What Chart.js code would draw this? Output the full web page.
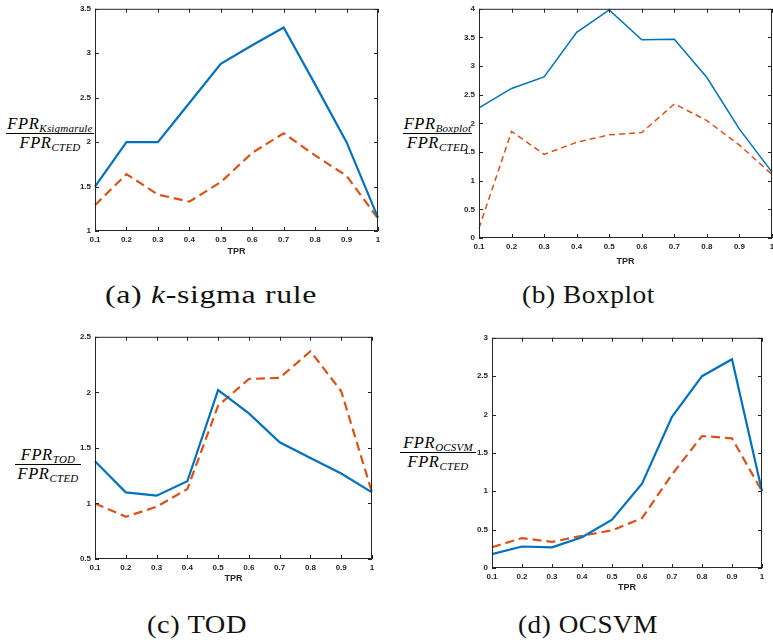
<!DOCTYPE html>
<html><head><meta charset="utf-8">
<script src="https://cdn.jsdelivr.net/npm/chart.js@4.4.0/dist/chart.umd.min.js"></script>
<style>
html,body{margin:0;padding:0;background:#fff;width:773px;height:643px;overflow:hidden;position:relative}
canvas{position:absolute}
.frac{position:absolute;text-align:center;font-family:"Liberation Serif",serif;color:#000}
.frac .num,.frac .den{height:18px;line-height:18px;white-space:nowrap}
.frac i{font-size:16.5px;letter-spacing:0.6px}
.frac sub{font-size:11px;font-style:italic;vertical-align:-3px;line-height:0;letter-spacing:0.2px}
.frac .bar{height:1px;background:#000}
.cap{position:absolute;font-family:"Liberation Serif",serif;font-size:25px;white-space:nowrap;color:#111;line-height:30px;transform-origin:0 50%;letter-spacing:0.5px}
</style></head><body>
<div class="frac" style="left:6px;width:88px;top:115px"><div class="num"><i>FPR</i><sub>Ksigmarule</sub></div><div class="bar"></div><div class="den"><i>FPR</i><sub>CTED</sub></div></div>
<div class="frac" style="left:403px;width:69px;top:115px"><div class="num"><i>FPR</i><sub>Boxplot</sub></div><div class="bar"></div><div class="den"><i>FPR</i><sub>CTED</sub></div></div>
<div class="frac" style="left:15px;width:66px;top:446px"><div class="num"><i>FPR</i><sub>TOD</sub></div><div class="bar"></div><div class="den"><i>FPR</i><sub>CTED</sub></div></div>
<div class="frac" style="left:400px;width:76px;top:434px"><div class="num"><i>FPR</i><sub>OCSVM</sub></div><div class="bar"></div><div class="den"><i>FPR</i><sub>CTED</sub></div></div>
<div class="cap" data-l="105" data-w="212" data-y="295">(a) <i>k</i>-sigma rule</div>
<div class="cap" data-l="522" data-w="133" data-y="295">(b) Boxplot</div>
<div class="cap" data-l="147" data-w="100" data-y="625">(c) TOD</div>
<div class="cap" data-l="518" data-w="140" data-y="625">(d) OCSVM</div>
<script>
// ---- data ----
const tprLabels = ['0.1','0.2','0.3','0.4','0.5','0.6','0.7','0.8','0.9','1'];

const ksigmaSolid  = [1.50, 2.00, 2.00, 2.44, 2.88, 3.09, 3.29, 2.65, 2.00, 1.15];
const ksigmaDashed = [1.29, 1.64, 1.41, 1.33, 1.55, 1.88, 2.10, 1.85, 1.62, 1.14];
const ksigmaYTicks = [1, 1.5, 2, 2.5, 3, 3.5];

const boxplotSolid  = [2.27, 2.61, 2.81, 3.59, 3.98, 3.46, 3.47, 2.80, 1.90, 1.15];
const boxplotDashed = [0.17, 1.86, 1.46, 1.67, 1.80, 1.84, 2.34, 2.05, 1.62, 1.11];
const boxplotYTicks = [0, 0.5, 1, 1.5, 2, 2.5, 3, 3.5, 4];

const todSolid  = [1.38, 1.10, 1.07, 1.20, 2.02, 1.81, 1.55, 1.41, 1.27, 1.10];
const todDashed = [1.00, 0.88, 0.97, 1.13, 1.88, 2.12, 2.13, 2.37, 2.01, 1.10];
const todYTicks = [0.5, 1, 1.5, 2, 2.5];

const ocsvmSolid  = [0.18, 0.28, 0.27, 0.40, 0.63, 1.10, 1.97, 2.50, 2.72, 1.00];
const ocsvmDashed = [0.27, 0.39, 0.34, 0.42, 0.49, 0.65, 1.22, 1.72, 1.69, 1.00];
const ocsvmYTicks = [0, 0.5, 1, 1.5, 2, 2.5, 3];

const xTitle = 'TPR';

// ---- captions: fit to measured extents ----
document.querySelectorAll('.cap').forEach(el => {
  const w = el.getBoundingClientRect().width;
  const target = +el.dataset.w;
  el.style.left = el.dataset.l + 'px';
  el.style.top = (+el.dataset.y - 15) + 'px';
  el.style.transform = 'scaleX(' + (target / w) + ')';
});

// ---- layout / style ----
const BLUE = '#0072BD', ORANGE = '#D95319', AXIS = '#262626';
const panels = [
  {plot:{l:95,  t:7,   r:378, b:231}, solid:ksigmaSolid,  dashed:ksigmaDashed,  yTicks:ksigmaYTicks,  lw:2.2, dash:[9,5], titleOff:21},
  {plot:{l:479, t:7,   r:772, b:238}, solid:boxplotSolid, dashed:boxplotDashed, yTicks:boxplotYTicks, lw:1.5, dash:[6,4], titleOff:24},
  {plot:{l:95,  t:335, r:372, b:559}, solid:todSolid,     dashed:todDashed,     yTicks:todYTicks,     lw:2.2, dash:[9,5], titleOff:20},
  {plot:{l:492, t:336, r:762, b:568}, solid:ocsvmSolid,   dashed:ocsvmDashed,   yTicks:ocsvmYTicks,   lw:2.2, dash:[9,5], titleOff:20}
];

const boxTicks = {
  id: 'boxTicks',
  afterDatasetsDraw(chart) {
    const {ctx, chartArea: a, scales} = chart;
    ctx.save();
    ctx.strokeStyle = AXIS;
    ctx.lineWidth = 1;
    ctx.strokeRect(a.left + 0.5, a.top + 0.5, a.right - a.left - 1, a.bottom - a.top - 1);
    const L = 4;
    ctx.beginPath();
    scales.x.ticks.forEach((t, i) => {
      const px = Math.round(scales.x.getPixelForTick(i)) + 0.5;
      ctx.moveTo(px, a.bottom); ctx.lineTo(px, a.bottom - L);
      ctx.moveTo(px, a.top); ctx.lineTo(px, a.top + L);
    });
    scales.y.ticks.forEach((t, i) => {
      const py = Math.round(scales.y.getPixelForTick(i)) + 0.5;
      ctx.moveTo(a.left, py); ctx.lineTo(a.left + L, py);
      ctx.moveTo(a.right, py); ctx.lineTo(a.right - L, py);
    });
    ctx.stroke();
    ctx.restore();
  }
};

const YW = 40, XH = 40, PT = 7, PR = 12;
panels.forEach(p => {
  const c = document.createElement('canvas');
  const w = (p.plot.r - p.plot.l) + YW + PR;
  const h = (p.plot.b - p.plot.t) + PT + XH;
  c.width = w; c.height = h;
  c.style.left = (p.plot.l - YW) + 'px';
  c.style.top = (p.plot.t - PT) + 'px';
  c.style.width = w + 'px'; c.style.height = h + 'px';
  document.body.appendChild(c);
  const yMin = p.yTicks[0], yMax = p.yTicks[p.yTicks.length - 1];
  const step = p.yTicks[1] - p.yTicks[0];
  new Chart(c, {
    type: 'line',
    data: {
      labels: tprLabels,
      datasets: [
        {data: p.solid, borderColor: BLUE, borderWidth: p.lw, pointRadius: 0, tension: 0, fill: false},
        {data: p.dashed, borderColor: ORANGE, borderWidth: p.lw, borderDash: p.dash, pointRadius: 0, tension: 0, fill: false}
      ]
    },
    options: {
      responsive: false, animation: false, devicePixelRatio: 1,
      layout: {padding: {top: PT, right: PR, left: 0, bottom: 0}},
      plugins: {legend: {display: false}, tooltip: {enabled: false}},
      scales: {
        x: {
          type: 'category', offset: false,
          grid: {display: false, drawTicks: false}, border: {display: false},
          ticks: {color: AXIS, font: {family: 'Liberation Sans', size: 8, weight: 'bold'}, padding: 4, maxRotation: 0, autoSkip: false},
          title: {display: true, text: xTitle, color: AXIS, font: {family: 'Liberation Sans', size: 9, weight: 'bold'}, padding: {top: 0, bottom: XH - p.titleOff - 5.4}},
          afterFit(s) { s.height = XH; }
        },
        y: {
          min: yMin, max: yMax,
          grid: {display: false, drawTicks: false}, border: {display: false},
          ticks: {stepSize: step, color: AXIS, font: {family: 'Liberation Sans', size: 8, weight: 'bold'}, padding: 4,
                  callback: v => String(Math.round(v * 10) / 10)},
          afterFit(s) { s.width = YW; }
        }
      }
    },
    plugins: [boxTicks]
  });
});
</script>
</body></html>
